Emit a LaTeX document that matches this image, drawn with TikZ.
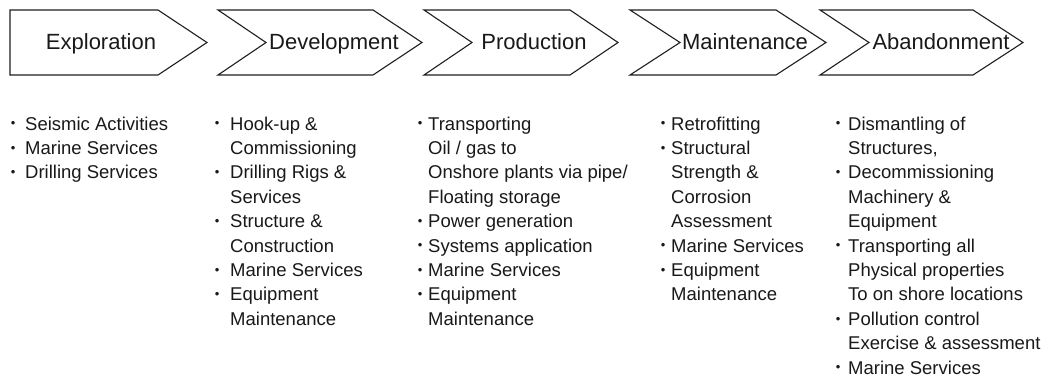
\documentclass[tikz,border=0pt]{standalone}
\usepackage{fontspec}
\setmainfont{Liberation Sans}
% small bullet hung to the left of the text, centred #1 before it
\newcommand{\smbul}[1]{\leavevmode\llap{\makebox[0pt]{\raisebox{2.2pt}{\fontsize{13}{13}\selectfont •}}\hspace{#1}}}
% one column of bullet text, first baseline on the node's base
\newcommand{\plist}[1]{\begin{minipage}[t]{215pt}\raggedright\fontsize{18.5}{24.4}\selectfont #1\end{minipage}}
\begin{document}
\begin{tikzpicture}[x=1pt,y=-1pt,
  phase/.style={draw=black!88, line width=1.1pt, line join=miter},
  head/.style={font=\fontsize{22}{24}\selectfont, anchor=base, inner sep=0, text=black!90},
  list/.style={anchor=base west, inner sep=0, text=black!90}]
\useasboundingbox[fill=white] (0,0) rectangle (1043,377);

% phase chevrons
\draw[phase] (10,10) -- (158,10) -- (207,42.5) -- (158,75) -- (10,75) -- cycle;
\draw[phase] (218,10) -- (373,10) -- (422,42.5) -- (373,75) -- (218,75) -- (266,42.5) -- cycle;
\draw[phase] (424,10) -- (570,10) -- (618,42.5) -- (570,75) -- (424,75) -- (472,42.5) -- cycle;
\draw[phase] (630,10) -- (776,10) -- (826,42.5) -- (776,75) -- (630,75) -- (680,42.5) -- cycle;
\draw[phase] (820,10) -- (973,10) -- (1023,42.5) -- (973,75) -- (820,75) -- (869,42.5) -- cycle;

% phase titles
\node[head] (exploration) at (101,50) {Exploration};
\node[head] (development) at (334,50) {Development};
\node[head] (production) at (534,50) {Production};
\node[head] (maintenance) at (745,50) {Maintenance};
\node[head] (abandonment) at (941,50) {Abandonment};

% activities of each phase
\node[list] (explist) at (25,130) {\plist{%
\smbul{12pt}Seismic Activities\\
\smbul{12pt}Marine Services\\
\smbul{12pt}Drilling Services}};

\node[list] (devlist) at (230,130) {\plist{%
\smbul{13pt}Hook-up \&\\
Commissioning\\
\smbul{13pt}Drilling Rigs \&\\
Services\\
\smbul{13pt}Structure \&\\
Construction\\
\smbul{13pt}Marine Services\\
\smbul{13pt}Equipment\\
Maintenance}};

\node[list] (prodlist) at (428,130) {\plist{%
\smbul{8pt}Transporting\\
Oil / gas to\\
Onshore plants via pipe/\\
Floating storage\\
\smbul{8pt}Power generation\\
\smbul{8pt}Systems application\\
\smbul{8pt}Marine Services\\
\smbul{8pt}Equipment\\
Maintenance}};

\node[list] (mainlist) at (671,130) {\plist{%
\smbul{8pt}Retrofitting\\
\smbul{8pt}Structural\\
Strength \&\\
Corrosion\\
Assessment\\
\smbul{8pt}Marine Services\\
\smbul{8pt}Equipment\\
Maintenance}};

\node[list] (abanlist) at (848,130) {\plist{%
\smbul{10pt}Dismantling of\\
Structures,\\
\smbul{10pt}Decommissioning\\
Machinery \&\\
Equipment\\
\smbul{10pt}Transporting all\\
Physical properties\\
To on shore locations\\
\smbul{10pt}Pollution control\\
Exercise \& assessment\\
\smbul{10pt}Marine Services}};
\end{tikzpicture}
\end{document}
